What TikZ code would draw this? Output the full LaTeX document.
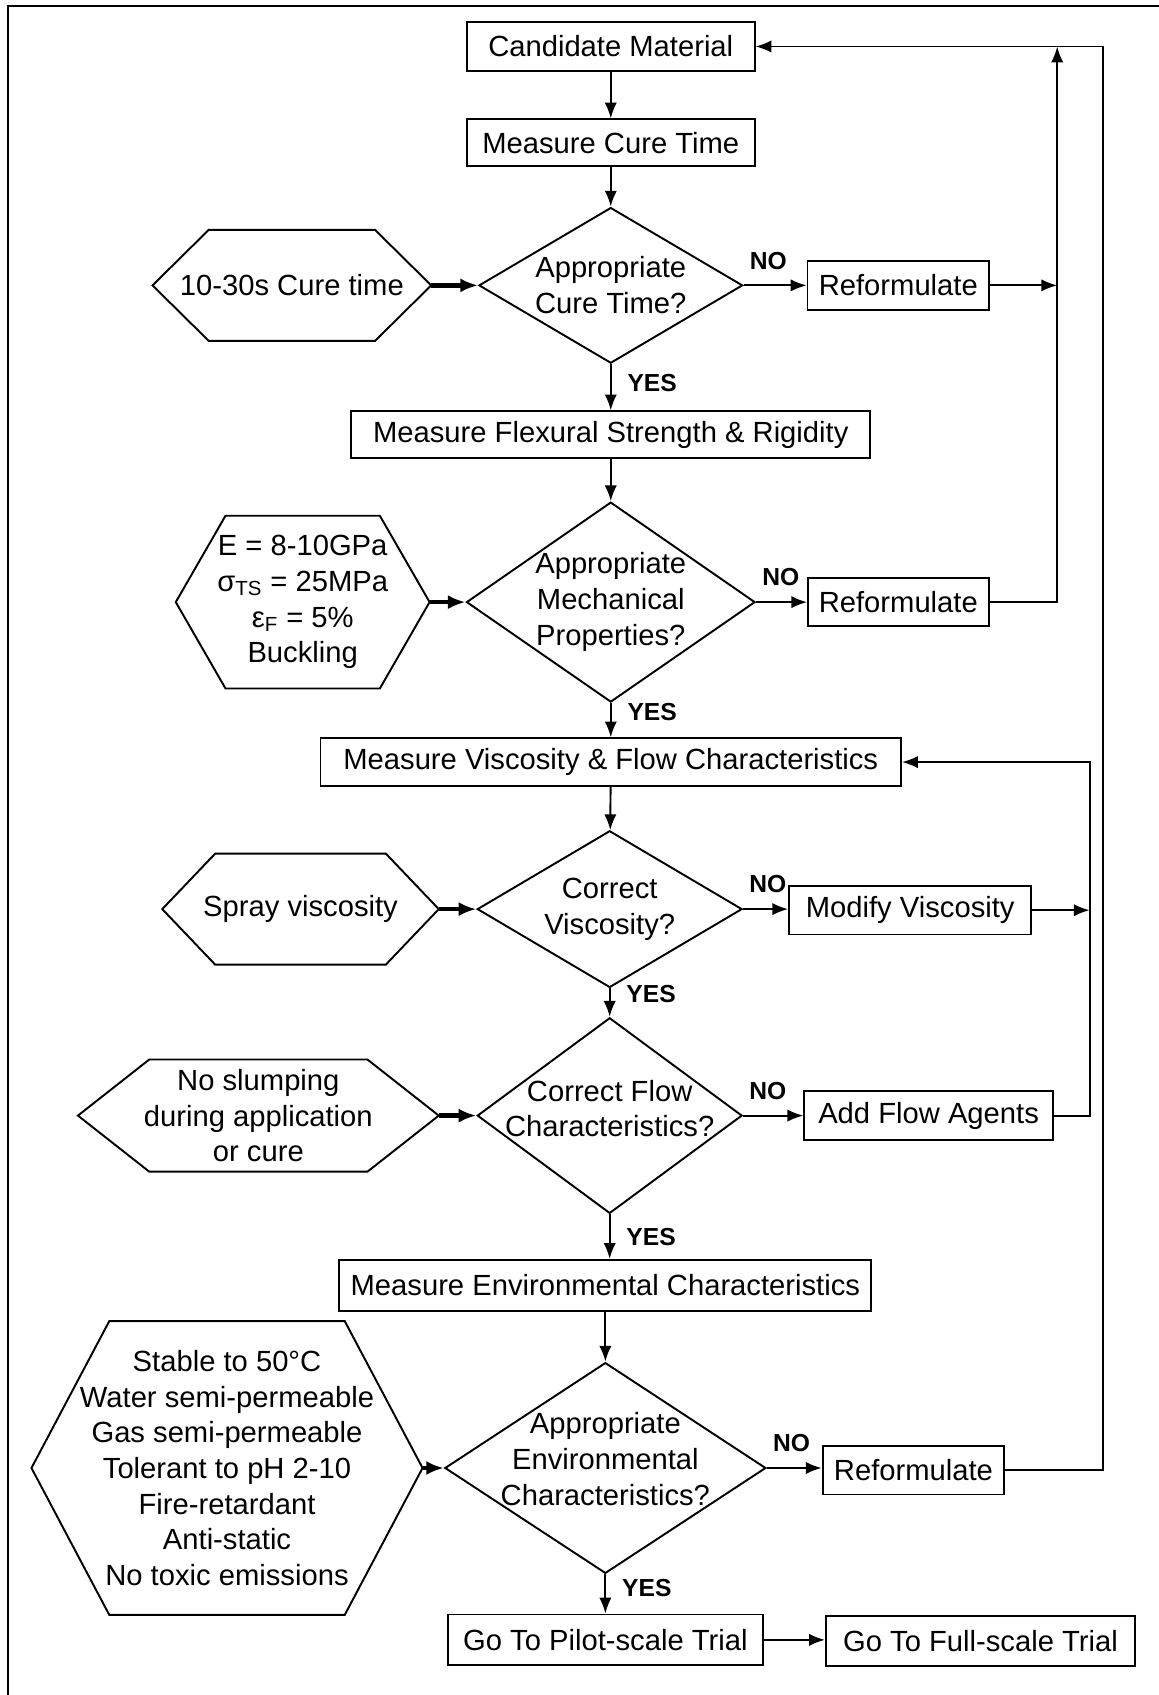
\documentclass[tikz,border=0pt]{standalone}
\usepackage{fontspec}
\setmainfont{Liberation Sans}
\usetikzlibrary{calc,arrows,arrows.meta,shapes.geometric}

\newlength{\pxu}
\setlength{\pxu}{0.0216cm}

\tikzset{
  box/.style={draw, inner sep=0pt},
  decide/.style={draw, diamond, inner sep=0pt},
  dtxt/.style={align=center, inner sep=0pt},
  hexa/.style={inner sep=0pt, align=center},
  lab/.style={font=\fontsize{14}{16}\selectfont\bfseries, inner sep=2pt},
  nolab/.style={lab, anchor=south west, xshift=1pt, yshift=6.5pt},
  yeslab/.style={lab, anchor=west, xshift=7pt},
  feed/.style={line width=2.5pt, -{Latex[length=10pt,width=8pt]}}
}

\begin{document}
\begin{tikzpicture}[x=0.0216cm, y=-0.0216cm, line width=1.1pt,
  >={Latex[length=9pt,width=7pt]},
  font=\fontsize{16.6}{20.3}\selectfont]
\useasboundingbox (0,0) rectangle (1072,1568);
% frame
\draw[line width=1.5pt] (7.5,1568) -- (7.5,5.5) -- (1072,5.5);

% main column
\node[box, minimum width=266*\pxu, minimum height=46*\pxu] (cand) at (565,43) {Candidate Material};
\node[box, minimum width=266*\pxu, minimum height=43*\pxu] (cure) at (565,132) {Measure Cure Time};
\node[decide, minimum width=244*\pxu, minimum height=144*\pxu,
  label={[dtxt]center:Appropriate\\Cure Time?}] (d1) at (565,264) {};
\node[box, minimum width=480*\pxu, minimum height=43*\pxu] (flex) at (565,402) {Measure Flexural Strength \& Rigidity};
\node[decide, minimum width=267*\pxu, minimum height=185*\pxu,
  label={[dtxt]center:Appropriate\\Mechanical\\Properties?}] (d2) at (565,557) {};
\node[box, minimum width=537*\pxu, minimum height=44*\pxu] (visc) at (565,705) {Measure Viscosity \& Flow Characteristics};
\node[decide, minimum width=245*\pxu, minimum height=145*\pxu,
  label={[dtxt]center:Correct\\Viscosity?}] (d3) at (564,841) {};
\node[decide, minimum width=245*\pxu, minimum height=181*\pxu,
  label={[dtxt, yshift=4pt]center:Correct Flow\\Characteristics?}] (d4) at (564,1032) {};
\node[box, minimum width=492*\pxu, minimum height=47*\pxu] (env) at (560,1189) {Measure Environmental Characteristics};
\node[decide, minimum width=297*\pxu, minimum height=195*\pxu,
  label={[dtxt, yshift=5pt]center:Appropriate\\Environmental\\Characteristics?}] (d5) at (560,1358) {};
\node[box, minimum width=291*\pxu, minimum height=47*\pxu] (pilot) at (560,1517) {Go To Pilot-scale Trial};
\node[box, minimum width=286*\pxu, minimum height=46*\pxu] (full) at (907,1518) {Go To Full-scale Trial};

% requirements
\node[hexa, minimum width=256*\pxu, minimum height=101*\pxu] (h1) at (270,264) {10-30s Cure time};
\node[hexa, minimum width=233*\pxu, minimum height=158*\pxu] (h2) at (280,557)
  {E = 8-10GPa\\σ\textsubscript{TS} = 25MPa\\ε\textsubscript{F} = 5\%\\Buckling};
\node[hexa, minimum width=254*\pxu, minimum height=101*\pxu] (h3) at (278,841) {Spray viscosity};
\node[hexa, minimum width=332*\pxu, minimum height=102*\pxu] (h4) at (239,1032)
  {No slumping\\during application\\or cure};
\node[hexa, minimum width=360*\pxu, minimum height=270*\pxu] (h5) at (210,1358)
  {Stable to 50°C\\Water semi-permeable\\Gas semi-permeable\\Tolerant to pH 2-10\\Fire-retardant\\Anti-static\\No toxic emissions};
\foreach \h/\o in {h1/52,h2/46,h3/49,h4/66,h5/72}
  \draw (\h.west) -- ($(\h.north west)+(\o,0)$) -- ($(\h.north east)+(-\o,0)$) -- (\h.east)
    -- ($(\h.south east)+(-\o,0)$) -- ($(\h.south west)+(\o,0)$) -- cycle;

% corrections
\node[box, minimum width=168*\pxu, minimum height=45*\pxu] (ref1) at (831,264) {Reformulate};
\node[box, minimum width=167*\pxu, minimum height=45*\pxu] (ref2) at (831,557) {Reformulate};
\node[box, minimum width=224*\pxu, minimum height=45*\pxu] (modv) at (842,842) {Modify Viscosity};
\node[box, minimum width=230*\pxu, minimum height=45*\pxu] (flow) at (859,1032) {Add Flow Agents};
\node[box, minimum width=168*\pxu, minimum height=45*\pxu] (ref3) at (845,1360) {Reformulate};

\coordinate (rtop) at (978,43);
\coordinate (otop) at (1020,43);
\coordinate (vtop) at (1008,705);

% connectors
\draw[->] (cand) -- (cure);
\draw[->] (cure) -- (d1);
\draw[->] (flex) -- (d2);
\draw[->] (visc) -- (d3);
\draw[->] (env) -- (d5);
\foreach \a/\b/\p in {d1/flex/0.4, d2/visc/0.25, d3/d4/0.2, d4/env/0.5, d5/pilot/0.35}
  \draw[->] (\a.south) -- node[yeslab, pos=\p] {YES} (\a.south |- \b.north);
\foreach \a/\b in {d1/ref1, d2/ref2, d3/modv, d4/flow, d5/ref3}
  \draw[->] (\a.east) -- node[nolab, pos=0] {NO} (\a.east -| \b.west);
\foreach \n in {1,...,5}
  \draw[feed] (h\n.east) -- (d\n.west);
\draw[->] (pilot.east) -- (pilot.east -| full.west);

% loops back
\draw[->] (ref1.east) -- (ref1.east -| rtop);
\draw[->] (ref2.east) -| (rtop);
\draw[->] (ref3.east) -| (otop) -- (cand.east);
\draw[->] (modv.east) -- (modv.east -| vtop);
\draw[->] (flow.east) -| (vtop) -- (visc.east);
\end{tikzpicture}
\end{document}
